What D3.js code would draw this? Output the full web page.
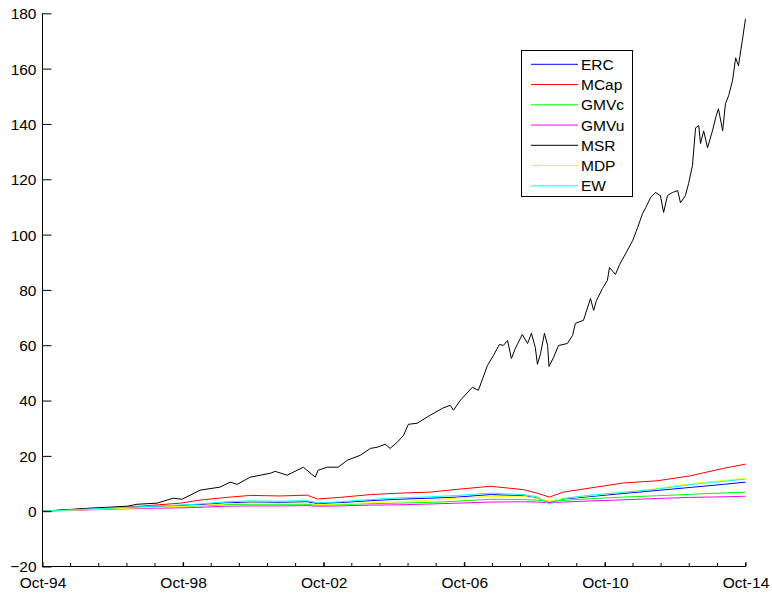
<!DOCTYPE html>
<html>
<head>
<meta charset="utf-8">
<script src="https://cdn.jsdelivr.net/npm/d3@7"></script>
<style>
  html, body { margin: 0; padding: 0; background: #fff; }
  svg { display: block; }
  text { font-family: "Liberation Sans", Arial, Helvetica, sans-serif; fill: #000; }
</style>
</head>
<body>
<svg id="chart" width="772" height="597"></svg>
<script>
// ---- Data (decimal years; Oct-94 = 1994.75) ----
const seriesNames = ["ERC", "MCap", "GMVc", "GMVu", "MSR", "MDP", "EW"];
const seriesColors = ["#0000ff", "#ff0000", "#00ff00", "#ff00ff", "#000000", "#ffff00", "#00ffff"];

const tickLabels = ["Oct-94", "Oct-98", "Oct-02", "Oct-06", "Oct-10", "Oct-14"];
const tickYears = [1994.75, 1998.75, 2002.75, 2006.75, 2010.75, 2014.75];
const yTicks = [-20, 0, 20, 40, 60, 80, 100, 120, 140, 160, 180];

// Common dates for the smoother portfolios
const dates = [1994.75, 1996.10, 1997.53, 1998.67, 1999.23, 2000.00, 2000.66, 2001.51, 2002.28, 2002.57,
  2003.22, 2004.08, 2004.87, 2005.78, 2006.55, 2007.49, 2008.43, 2008.83, 2009.17, 2009.57,
  2010.34, 2011.28, 2012.25, 2013.19, 2014.13, 2014.75];

const ercValues  = [0, 0.8, 1.5, 2.1, 2.4, 3.0, 3.3, 3.2, 3.4, 2.7, 3.1, 3.8, 4.3, 4.7, 5.1, 6.0, 5.6, 4.7, 3.0, 4.4, 5.3, 6.4, 7.5, 8.6, 9.7, 10.5];
const mcapValues = [0, 0.9, 1.8, 2.9, 4.0, 5.0, 5.7, 5.5, 5.8, 4.4, 5.0, 6.0, 6.5, 6.9, 7.9, 9.0, 7.8, 6.5, 5.1, 6.9, 8.4, 10.2, 11.0, 12.8, 15.5, 17.0];
const gmvcValues = [0, 0.6, 1.2, 1.7, 1.9, 2.4, 2.5, 2.5, 2.5, 2.2, 2.4, 2.7, 2.9, 3.2, 3.6, 4.3, 4.2, 4.0, 3.6, 3.9, 4.5, 5.1, 5.6, 6.1, 6.6, 6.9];
const gmvuValues = [0, 0.5, 1.0, 1.2, 1.4, 1.8, 1.9, 1.9, 2.0, 1.8, 1.9, 2.2, 2.3, 2.6, 2.9, 3.3, 3.4, 3.3, 3.1, 3.3, 3.7, 4.1, 4.6, 5.0, 5.2, 5.4];
const mdpValues  = [0, 0.6, 1.2, 1.7, 2.0, 2.7, 2.9, 2.8, 2.9, 2.4, 2.6, 3.1, 3.4, 4.0, 4.7, 5.3, 5.4, 4.6, 3.6, 4.6, 5.6, 6.9, 8.2, 10.0, 11.1, 11.9];
const ewValues   = [0, 0.8, 1.6, 2.2, 2.6, 3.4, 3.7, 3.6, 3.8, 3.0, 3.4, 4.2, 4.8, 5.2, 5.7, 6.5, 6.0, 5.2, 2.5, 4.6, 5.8, 6.8, 8.0, 9.6, 10.8, 11.6];

// MSR (max Sharpe ratio) — own, denser dates
const msrDates = [1994.75, 1995.62, 1996.10, 1996.59, 1997.16, 1997.44, 1998.01, 1998.47, 1998.72, 1999.23,
  1999.80, 2000.09, 2000.29, 2000.66, 2000.94, 2001.23, 2001.37, 2001.71, 2002.17, 2002.51,
  2002.59, 2002.85, 2003.16, 2003.42, 2003.79, 2004.08, 2004.27, 2004.50, 2004.64, 2004.84,
  2005.02, 2005.16, 2005.41, 2005.78, 2006.13, 2006.35, 2006.44, 2006.64, 2006.98, 2007.15,
  2007.41, 2007.58, 2007.75, 2007.86, 2007.98, 2008.09, 2008.20, 2008.40, 2008.55, 2008.66,
  2008.77, 2008.83, 2008.92, 2009.03, 2009.12, 2009.16, 2009.29, 2009.43, 2009.68, 2009.83,
  2009.91, 2010.14, 2010.34, 2010.43, 2010.51, 2010.68, 2010.82, 2010.88, 2011.05, 2011.17,
  2011.54, 2011.68, 2011.82, 2011.91, 2012.05, 2012.19, 2012.33, 2012.42, 2012.53, 2012.67,
  2012.82, 2012.90, 2013.04, 2013.13, 2013.24, 2013.33, 2013.42, 2013.47, 2013.56, 2013.67,
  2013.81, 2013.90, 2013.98, 2014.10, 2014.18, 2014.27, 2014.38, 2014.47, 2014.55, 2014.67, 2014.75];
const msrValues = [0, 0.7, 1.1, 1.4, 1.8, 2.5, 2.9, 4.7, 4.3, 7.6,
  8.7, 10.5, 9.7, 12.3, 13.0, 13.7, 14.4, 13.0, 15.9, 12.3,
  14.8, 15.9, 15.9, 18.4, 20.2, 22.7, 23.1, 24.2, 22.7, 24.9,
  27.4, 31.4, 31.8, 34.7, 37.2, 38.3, 36.5, 40.1, 44.8, 43.7,
  52.7, 56.3, 60.3, 59.9, 61.7, 55.2, 58.8, 63.9, 60.6, 64.3,
  59.2, 53.1, 57.0, 64.3, 59.9, 52.3, 55.6, 59.9, 60.6, 63.5,
  67.9, 69.0, 76.9, 72.6, 76.2, 80.5, 83.4, 88.1, 85.6, 89.2,
  97.8, 102.5, 107.6, 109.7, 113.4, 115.2, 114.1, 108.0, 114.1, 115.2,
  115.9, 111.5, 114.1, 118.4, 124.9, 138.6, 139.4, 132.9, 137.5, 131.4,
  137.5, 142.2, 145.5, 137.5, 147.3, 150.2, 155.6, 163.9, 161.0, 171.1, 178.0];

// ---- Build series table ----
const series = [
  { name: "ERC",  x: dates,    y: ercValues },
  { name: "MCap", x: dates,    y: mcapValues },
  { name: "GMVc", x: dates,    y: gmvcValues },
  { name: "GMVu", x: dates,    y: gmvuValues },
  { name: "MSR",  x: msrDates, y: msrValues },
  { name: "MDP",  x: dates,    y: mdpValues },
  { name: "EW",   x: dates,    y: ewValues }
];

const svg = d3.select("#chart");
svg.append("rect").attr("width", 772).attr("height", 597).attr("fill", "#fff");

const x = d3.scaleLinear().domain([1994.75, 2014.75]).range([42.5, 745.5]);
const y = d3.scaleLinear().domain([-20, 180]).range([566.5, 13.3]);

// lines
const line = d3.line().x(d => x(d[0])).y(d => y(d[1]));
series.forEach((s, i) => {
  const pts = s.x.map((t, k) => [t, s.y[k]]);
  svg.append("path")
    .datum(pts)
    .attr("fill", "none")
    .attr("stroke", seriesColors[i])
    .attr("stroke-width", 1)
    .attr("d", line);
});

// y axis
const yAxis = d3.axisLeft(y).tickValues(yTicks).tickSize(-9).tickPadding(6).tickFormat(d3.format("d"));
const gy = svg.append("g").attr("transform", "translate(42.5,0)").call(yAxis);
gy.select(".domain").attr("stroke", "#000").attr("d", `M0,${y(-20)}V${y(180)}`);
gy.selectAll(".tick line").attr("stroke", "#000");
gy.selectAll(".tick text").attr("font-size", 15.5).attr("dy", "0.35em");

// x axis: minor ticks every 0.8 year, labels every 4 years
const minorTicks = d3.range(0, 26).map(k => 1994.75 + k * 0.8).filter(t => t <= 2014.76);
const gxMinor = svg.append("g").attr("transform", `translate(0,${y(-20)})`);
gxMinor.selectAll("line").data(minorTicks).enter().append("line")
  .attr("x1", d => x(d)).attr("x2", d => x(d))
  .attr("y1", 0).attr("y2", -3.5).attr("stroke", "#000");

const xAxis = d3.axisBottom(x).tickValues(tickYears).tickSize(-4.5).tickPadding(12)
  .tickFormat((d, i) => tickLabels[i]);
const gx = svg.append("g").attr("transform", `translate(0,${y(-20)})`).call(xAxis);
gx.select(".domain").attr("stroke", "#000").attr("d", `M${x(1994.75) - 0.5},0H${x(2014.75)}`);
gx.selectAll(".tick line").attr("stroke", "#000");
gx.selectAll(".tick text").attr("font-size", 15.5).attr("dy", "0.6em");

// legend
const lg = svg.append("g");
lg.append("rect").attr("x", 521.5).attr("y", 50.5).attr("width", 111).attr("height", 146)
  .attr("fill", "#fff").attr("stroke", "#000").attr("stroke-width", 1);
seriesNames.forEach((n, i) => {
  const yy = 64.3 + i * 20.25;
  lg.append("line").attr("x1", 531).attr("x2", 578).attr("y1", yy).attr("y2", yy)
    .attr("stroke", seriesColors[i]).attr("stroke-width", 1);
  lg.append("text").attr("x", 581).attr("y", yy).attr("dy", "0.36em")
    .attr("font-size", 15.5).text(n);
});
</script>
</body>
</html>
